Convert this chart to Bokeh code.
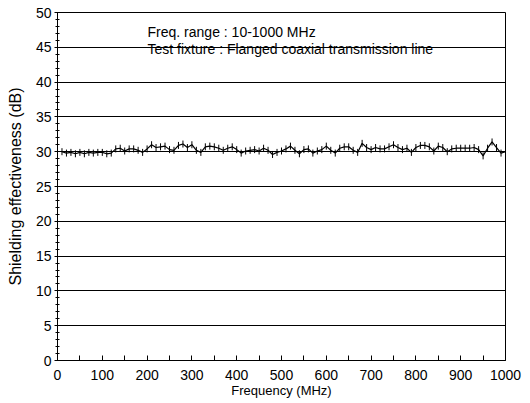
import math
from bokeh.plotting import figure
from bokeh.models import FixedTicker, Range1d, Label
from bokeh.embed import file_html
from bokeh.resources import INLINE

freq_mhz = list(range(10, 1001, 10))
shielding_db = [
    30.0, 29.8, 29.9, 29.7, 29.9, 29.7, 29.9, 29.8, 29.9, 29.9,
    29.7, 29.8, 30.4, 30.5, 30.1, 30.4, 30.4, 30.2, 29.9, 30.4,
    31.0, 30.6, 30.7, 30.8, 30.3, 30.2, 30.9, 31.1, 30.6, 31.0,
    30.2, 29.9, 30.7, 30.8, 30.7, 30.5, 30.2, 30.5, 30.7, 30.3,
    29.8, 30.1, 30.2, 30.3, 30.1, 30.5, 30.2, 29.6, 29.9, 30.1,
    30.4, 30.8, 30.2, 29.7, 30.3, 30.4, 29.8, 30.1, 30.3, 30.8,
    30.2, 29.8, 30.5, 30.7, 30.7, 30.2, 29.9, 31.2, 30.6, 30.3,
    30.6, 30.4, 30.4, 30.7, 31.0, 30.6, 30.3, 30.5, 29.9, 30.6,
    30.9, 30.9, 30.7, 30.1, 30.8, 30.6, 30.0, 30.4, 30.5, 30.5,
    30.5, 30.5, 30.6, 30.3, 29.4, 30.5, 31.4, 30.6, 29.8, 30.0,
]
x_ticks = list(range(0, 1001, 100))
x_minor = list(range(50, 1000, 100))
y_ticks = list(range(0, 51, 5))
y_minor = list(range(0, 51, 1))
notes = ["Freq. range : 10-1000 MHz",
         "Test fixture : Flanged coaxial transmission line"]

FONT = "Liberation Sans"

p = figure(width=522, height=400, output_backend="svg", toolbar_location=None,
           x_range=Range1d(0, 1000), y_range=Range1d(0, 50),
           min_border_left=57, min_border_right=17, min_border_top=12,
           min_border_bottom=40)
p.background_fill_color = "white"
p.border_fill_color = "white"
p.outline_line_color = "black"
p.outline_line_width = 1

p.xgrid.visible = False
p.ygrid.ticker = FixedTicker(ticks=y_ticks)
p.ygrid.grid_line_color = "black"
p.ygrid.grid_line_width = 1

p.xaxis.ticker = FixedTicker(ticks=x_ticks, minor_ticks=x_minor)
p.yaxis.ticker = FixedTicker(ticks=y_ticks, minor_ticks=y_minor)

for ax in (p.xaxis[0], p.yaxis[0]):
    ax.axis_line_color = "black"
    ax.major_tick_line_color = "black"
    ax.minor_tick_line_color = "black"
    ax.major_label_text_color = "black"
    ax.major_label_text_font = FONT
    ax.major_label_text_font_size = "14px"
    ax.axis_label_text_font = FONT
    ax.axis_label_text_font_style = "normal"
    ax.axis_label_text_color = "black"

p.xaxis.axis_label = "Frequency (MHz)"
p.xaxis.axis_label_text_font_size = "13px"
p.xaxis.major_tick_in = 5
p.xaxis.major_tick_out = 0
p.xaxis.minor_tick_in = 5
p.xaxis.minor_tick_out = 0
p.xaxis.major_label_standoff = 9
p.xaxis.axis_label_standoff = 0

p.yaxis.axis_label = "Shielding effectiveness (dB)"
p.yaxis.axis_label_text_font_size = "16px"
p.yaxis.major_tick_in = 3
p.yaxis.major_tick_out = 3
p.yaxis.minor_tick_in = 2
p.yaxis.minor_tick_out = 2
p.yaxis.major_label_standoff = 3
p.yaxis.axis_label_standoff = 9

p.line(freq_mhz, shielding_db, line_color="black", line_width=1.2)
p.scatter(freq_mhz, shielding_db, marker="dash", angle=math.pi / 2, size=7,
          line_color="black", line_width=1)

p.add_layout(Label(x=201, y=47.2, text=notes[0], text_font=FONT,
                   text_font_size="14px", text_color="black",
                   text_baseline="middle"))
p.add_layout(Label(x=201, y=44.8, text=notes[1], text_font=FONT,
                   text_font_size="14px", text_color="black",
                   text_baseline="middle"))

open("out.html", "w").write(file_html(p, INLINE))
